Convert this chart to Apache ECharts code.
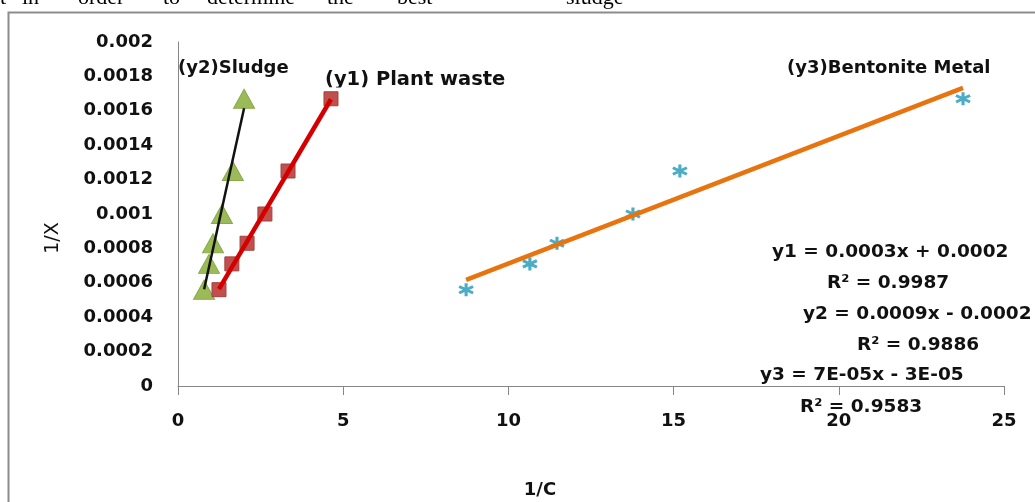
<!DOCTYPE html>
<html>
<head>
<meta charset="utf-8">
<title>1/X vs 1/C</title>
<script src="https://cdn.jsdelivr.net/npm/echarts@6/dist/echarts.min.js"></script>
<style>
	html, body { margin: 0; padding: 0; background: #ffffff; }
	#chart { width: 1035px; height: 502px; }
</style>
</head>
<body>
<div id="chart"></div>
<script>
// 1/X, same values for the three adsorbents
var invX = [0.00056, 0.00071, 0.00083, 0.001, 0.00125, 0.00167];
// 1/C for each adsorbent
var sludgeInvC = [0.79, 0.94, 1.06, 1.33, 1.66, 2.0];
var plantInvC = [1.24, 1.63, 2.09, 2.63, 3.33, 4.63];
var bentoniteInvC = [8.72, 10.65, 11.47, 13.77, 15.19, 23.76];

var xTickLabels = ['0', '5', '10', '15', '20', '25'];
var yTickLabels = ['0', '0.0002', '0.0004', '0.0006', '0.0008', '0.001', '0.0012', '0.0014', '0.0016', '0.0018', '0.002'];

var seriesNames = ['(y2)Sludge', '(y1) Plant waste', '(y3)Bentonite Metal'];
var equations = ['y1 = 0.0003x + 0.0002', 'R² = 0.9987', 'y2 = 0.0009x - 0.0002', 'R² = 0.9886', 'y3 = 7E-05x - 3E-05', 'R² = 0.9583'];
var headerWords = ['t', 'in', 'order', 'to', 'determine', 'the', 'best', 'sludge'];

function pairs(xs, ys) {
	return xs.map(function (x, i) { return [x, ys[i]]; });
}

// least squares line between the smallest and largest x, like the excel trendline
function trend(xs, ys) {
	var n = xs.length, mx = 0, my = 0, sxy = 0, sxx = 0;
	for (var i = 0; i < n; i++) { mx += xs[i] / n; my += ys[i] / n; }
	for (var j = 0; j < n; j++) {
		sxy += (xs[j] - mx) * (ys[j] - my);
		sxx += (xs[j] - mx) * (xs[j] - mx);
	}
	var b = sxy / sxx, a = my - b * mx;
	var x0 = Math.min.apply(null, xs), x1 = Math.max.apply(null, xs);
	return [[x0, a + b * x0], [x1, a + b * x1]];
}

var FONT = '"DejaVu Sans", sans-serif';
var asterisk = 'path://M5,0L5,10M0.7,2.5L9.3,7.5M0.7,7.5L9.3,2.5';

var headerX = [0, 22, 78, 163, 207, 327, 397, 566];
var eqPos = [[772, 252], [827, 283], [803, 314], [857, 345], [760, 375], [800, 407]];

var graphics = [
	{ type: 'rect', shape: { x: 8.5, y: 12.5, width: 1100, height: 600 },
		style: { fill: 'none', stroke: '#8c8c8c', lineWidth: 2 }, z: 0 },
	{ type: 'text', x: 178, y: 68, z: 1,
		style: { text: seriesNames[0], font: 'bold 18px ' + FONT, fill: '#111', verticalAlign: 'middle' } },
	{ type: 'text', x: 325, y: 80, z: 1,
		style: { text: seriesNames[1], font: 'bold 19.5px ' + FONT, fill: '#111', verticalAlign: 'middle' } },
	// the plant waste label is cut at the bottom in the original
	{ type: 'rect', shape: { x: 320, y: 87.5, width: 200, height: 3 }, style: { fill: '#fff' }, z: 5 },
	{ type: 'text', x: 787, y: 68, z: 1,
		style: { text: seriesNames[2], font: 'bold 18px ' + FONT, fill: '#111', verticalAlign: 'middle' } },
	{ type: 'text', x: 53, y: 238, rotation: Math.PI / 2, z: 1,
		style: { text: '1/X', font: '19px ' + FONT, fill: '#111', align: 'center', verticalAlign: 'middle' } },
	{ type: 'text', x: 540, y: 490, z: 1,
		style: { text: '1/C', font: 'bold 18px ' + FONT, fill: '#111', align: 'center', verticalAlign: 'middle' } }
];
equations.forEach(function (t, i) {
	graphics.push({ type: 'text', x: eqPos[i][0], y: eqPos[i][1], z: 1,
		style: { text: t, font: 'bold 18.5px ' + FONT, fill: '#111', verticalAlign: 'middle' } });
});
headerWords.forEach(function (w, i) {
	graphics.push({ type: 'text', x: headerX[i], y: -1.5, z: 1,
		style: { text: w, font: '22px "Liberation Serif", serif', fill: '#000', verticalAlign: 'middle' } });
});

var myChart = echarts.init(document.getElementById('chart'));

var options = {
	animation: false,
	grid: { left: 178, right: 31, top: 42, bottom: 116 },
	xAxis: {
		type: 'value',
		min: 0,
		max: 25,
		interval: 5,
		axisLine: { lineStyle: { color: '#868686', width: 1 } },
		axisTick: { show: true, length: 9, lineStyle: { color: '#868686' } },
		splitLine: { show: false },
		axisLabel: {
			margin: 26,
			color: '#111',
			fontFamily: FONT,
			fontWeight: 'bold',
			fontSize: 18,
			formatter: function (v) { return xTickLabels[Math.round(v / 5)]; }
		}
	},
	yAxis: {
		type: 'value',
		min: 0,
		max: 0.002,
		interval: 0.0002,
		axisLine: { show: true, lineStyle: { color: '#868686', width: 1 } },
		axisTick: { show: false },
		splitLine: { show: false },
		axisLabel: {
			margin: 25,
			color: '#111',
			fontFamily: FONT,
			fontWeight: 'bold',
			fontSize: 18,
			formatter: function (v) { return yTickLabels[Math.round(v / 0.0002)]; }
		}
	},
	graphic: graphics,
	series: [
		{
			name: seriesNames[0],
			type: 'scatter',
			symbol: 'triangle',
			symbolSize: [21, 19],
			itemStyle: { color: '#9BBB59', borderColor: '#8AAA4A', borderWidth: 1, opacity: 1 },
			data: pairs(sludgeInvC, invX)
		},
		{
			name: seriesNames[1],
			type: 'scatter',
			symbol: 'rect',
			symbolSize: 14,
			itemStyle: { color: '#C0504D', borderColor: '#A5403D', borderWidth: 1, opacity: 1 },
			data: pairs(plantInvC, invX)
		},
		{
			name: seriesNames[2],
			type: 'scatter',
			symbol: asterisk,
			symbolSize: [14, 13],
			itemStyle: { color: 'none', borderColor: '#4BACC6', borderWidth: 3, opacity: 1 },
			data: pairs(bentoniteInvC, invX)
		},
		{
			type: 'line',
			symbol: 'none',
			z: 3,
			lineStyle: { color: '#111111', width: 2.5 },
			data: trend(sludgeInvC, invX)
		},
		{
			type: 'line',
			symbol: 'none',
			z: 3,
			lineStyle: { color: '#D40000', width: 4.5 },
			data: trend(plantInvC, invX)
		},
		{
			type: 'line',
			symbol: 'none',
			z: 3,
			lineStyle: { color: '#E8740F', width: 4.5 },
			data: trend(bentoniteInvC, invX)
		}
	]
};

myChart.setOption(options);
</script>
</body>
</html>
